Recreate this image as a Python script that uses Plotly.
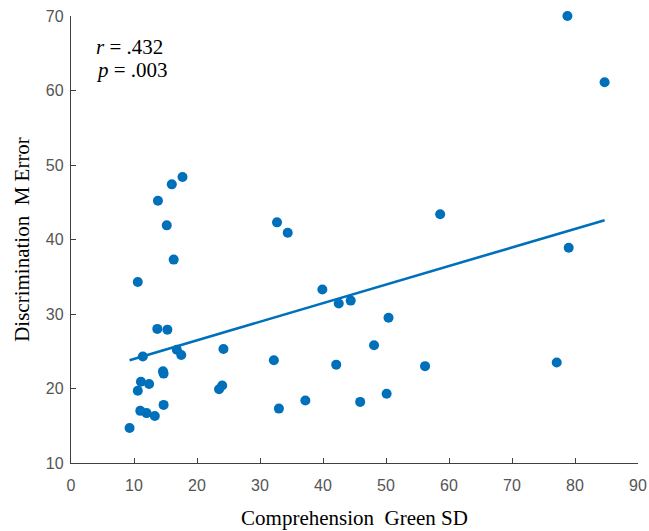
import plotly.graph_objects as go

# scatter values
green_sd = [78.8, 84.7, 58.6, 13.8, 16.0, 17.7, 15.2, 32.7, 34.4, 16.3,
            10.6, 13.7, 15.3, 11.4, 16.8, 17.5, 24.2, 32.2, 39.9, 42.5,
            44.4, 42.1, 14.6, 14.7, 11.1, 12.4, 10.6, 23.5, 24.0, 14.7,
            11.0, 12.0, 13.3, 9.3, 33.0, 37.2, 45.9, 50.4, 48.1, 56.2,
            50.1, 77.1, 79.0]
m_error = [70.0, 61.1, 43.4, 45.2, 47.4, 48.4, 41.9, 42.3, 40.9, 37.3,
           34.3, 28.0, 27.9, 24.3, 25.2, 24.5, 25.3, 23.8, 33.3, 31.4,
           31.8, 23.2, 22.3, 22.0, 20.9, 20.6, 19.7, 19.9, 20.4, 17.8,
           17.0, 16.7, 16.3, 14.7, 17.3, 18.4, 18.2, 29.5, 25.8, 23.0,
           19.3, 23.5, 38.9]

# fitted line end points
fit_x = [9.3, 84.7]
fit_y = [23.8, 42.6]

x_ticks = [0, 10, 20, 30, 40, 50, 60, 70, 80, 90]
y_ticks = [10, 20, 30, 40, 50, 60, 70]

blue = '#0070BA'
axis_col = '#404040'

fig = go.Figure()
fig.add_trace(go.Scatter(
    x=fit_x, y=fit_y, mode='lines',
    line=dict(color=blue, width=2.6), hoverinfo='skip'
))
fig.add_trace(go.Scatter(
    x=green_sd, y=m_error, mode='markers',
    marker=dict(color=blue, size=10), cliponaxis=False
))

fig.add_annotation(x=3.6, y=65.8, xref='x', yref='y', xanchor='left', showarrow=False,
                   text='<i>r</i> = .432', font=dict(family='Liberation Serif', size=21, color='black'))
fig.add_annotation(x=3.6, y=62.7, xref='x', yref='y', xanchor='left', showarrow=False,
                   text='<i>p</i> = .003', font=dict(family='Liberation Serif', size=21, color='black'))

axis_common = dict(
    showgrid=False, zeroline=False, showline=True, linecolor=axis_col, linewidth=1.3,
    ticks='inside', ticklen=5, tickcolor=axis_col, tickwidth=1.2, automargin=False,
    ticklabeloverflow='allow',
    tickfont=dict(family='Liberation Sans', size=16, color='#555555'),
)
fig.update_xaxes(range=[0, 90], tickvals=x_ticks, ticklabelstandoff=8, **axis_common,
                 title=dict(text='Comprehension  Green SD', standoff=16,
                            font=dict(family='Liberation Serif', size=21, color='black')))
fig.update_yaxes(range=[10, 70], tickvals=y_ticks, ticklabelstandoff=3, **axis_common,
                 title=dict(text='Discrimination  M Error', standoff=10,
                            font=dict(family='Liberation Serif', size=21, color='black')))

fig.update_layout(
    width=649, height=531, showlegend=False,
    plot_bgcolor='white', paper_bgcolor='white',
    margin=dict(l=71, r=11, t=16, b=68),
)

# drop the default 8px page margin so the figure fills the window
fig.write_html("out.html", config={'displayModeBar': False},
               post_script="document.body.style.margin='0';")
